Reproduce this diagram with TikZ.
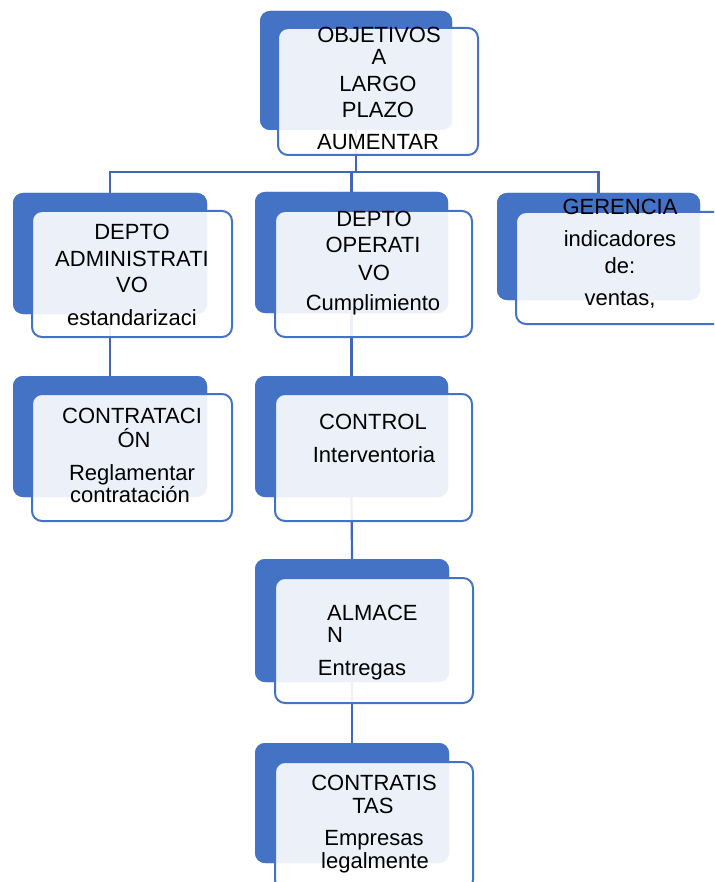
\documentclass[tikz,border=0pt]{standalone}
\usepackage{fontspec}
\setmainfont{Liberation Sans}
\definecolor{blueD}{HTML}{4472C4}
\definecolor{lineC}{HTML}{4068B8}
\begin{document}
\begin{tikzpicture}[x=1pt,y=-1pt,
  back/.style={fill=blueD, rounded corners=10pt, inner sep=0pt, outer sep=0pt},
  front/.style={draw=blueD, line width=2pt, fill=white, fill opacity=0.9, rounded corners=10pt, inner sep=0pt, outer sep=0pt},
  conn/.style={draw=lineC, line width=2.2pt},
  txt/.style={font=\fontsize{22}{26}\selectfont, inner sep=0pt, anchor=base, text=black}]
\useasboundingbox (0,0) rectangle (714,882);
\clip (0,0) rectangle (714,882);

% back boxes (connectors hang from their centres)
\path
  (356,70.5)   node[back, minimum width=192pt, minimum height=119pt] (objB) {}
  (110,253.5)  node[back, minimum width=194pt, minimum height=121pt] (admB) {}
  (351.5,252.5) node[back, minimum width=193pt, minimum height=121pt] (opeB) {}
  (598.5,246.5) node[back, minimum width=203pt, minimum height=107pt] (gerB) {}
  (110,436.5)  node[back, minimum width=194pt, minimum height=121pt] (conB) {}
  (351.5,436.5) node[back, minimum width=193pt, minimum height=121pt] (ctlB) {}
  (352,620.5)  node[back, minimum width=194pt, minimum height=123pt] (almB) {}
  (352,803)    node[back, minimum width=194pt, minimum height=120pt] (ctsB) {};

% connectors, drawn below the front panels
\coordinate (bus) at (356,172);
\draw[conn] (objB.south) -- (bus);
\draw[conn] (admB.north) |- (bus) -| (gerB.north);
\draw[conn] (opeB.north) -- (opeB.north |- bus);
\draw[conn] (admB.south) -- (conB.north);
\draw[conn] (opeB.south) -- (ctlB.north);
\draw[conn] (ctlB.south) -- (almB.north);
\draw[conn] (almB.south) -- (ctsB.north);

% back boxes again so the lines sit behind them
\fill[blueD, rounded corners=10pt] (objB.south west) rectangle (objB.north east);
\fill[blueD, rounded corners=10pt] (admB.south west) rectangle (admB.north east);
\fill[blueD, rounded corners=10pt] (opeB.south west) rectangle (opeB.north east);
\fill[blueD, rounded corners=10pt] (gerB.south west) rectangle (gerB.north east);
\fill[blueD, rounded corners=10pt] (conB.south west) rectangle (conB.north east);
\fill[blueD, rounded corners=10pt] (ctlB.south west) rectangle (ctlB.north east);
\fill[blueD, rounded corners=10pt] (almB.south west) rectangle (almB.north east);
\fill[blueD, rounded corners=10pt] (ctsB.south west) rectangle (ctsB.north east);

% front panels
\path
  (378,91.5)   node[front, minimum width=200pt, minimum height=127pt] (objF) {}
  (132,274)    node[front, minimum width=200pt, minimum height=126pt] (admF) {}
  (373.5,274)  node[front, minimum width=197pt, minimum height=126pt] (opeF) {}
  (623,268)    node[front, minimum width=214pt, minimum height=112pt] (gerF) {}
  (132,457.5)  node[front, minimum width=200pt, minimum height=127pt] (conF) {}
  (373.5,457.5) node[front, minimum width=197pt, minimum height=127pt] (ctlF) {}
  (374,640.5)  node[front, minimum width=198pt, minimum height=125pt] (almF) {}
  (374,826)    node[front, minimum width=198pt, minimum height=128pt] (ctsF) {};

% texts
\node[txt] (objT1) at (379,43) {OBJETIVOS};
\node[txt] (objT2) at (379,65) {A};
\node[txt] (objT3) at (378,92) {LARGO};
\node[txt] (objT4) at (378,118) {PLAZO};
\node[txt] (objT5) at (378,150) {AUMENTAR};

\node[txt] (admT1) at (132,240) {DEPTO};
\node[txt] (admT2) at (132,267) {ADMINISTRATI};
\node[txt] (admT3) at (132,292) {VO};
\node[txt] (admT4) at (132,325) {estandarizaci};

\node[txt] (opeT1) at (374,227) {DEPTO};
\node[txt] (opeT2) at (373,253) {OPERATI};
\node[txt] (opeT3) at (374,280) {VO};
\node[txt] (opeT4) at (373,310) {Cumplimiento};

\node[txt] (gerT1) at (620,215) {GERENCIA};
\node[txt] (gerT2) at (620,247) {indicadores};
\node[txt] (gerT3) at (620,273) {de:};
\node[txt] (gerT4) at (620,305) {ventas,};

\node[txt] (conT1) at (132,423) {CONTRATACI};
\node[txt] (conT2) at (134,447) {ÓN};
\node[txt] (conT3) at (132,480) {Reglamentar};
\node[txt] (conT4) at (130,502) {contratación};

\node[txt] (ctlT1) at (373,429) {CONTROL};
\node[txt] (ctlT2) at (374,462) {Interventoria};

\node[txt, anchor=base west] (almT1) at (327,620) {ALMACE};
\node[txt, anchor=base west] (almT2) at (327,642) {N};
\node[txt] (almT3) at (362,675) {Entregas};

\node[txt] (ctsT1) at (374,790) {CONTRATIS};
\node[txt] (ctsT2) at (373,813) {TAS};
\node[txt] (ctsT3) at (374,845) {Empresas};
\node[txt] (ctsT4) at (375,868) {legalmente};
\end{tikzpicture}
\end{document}
